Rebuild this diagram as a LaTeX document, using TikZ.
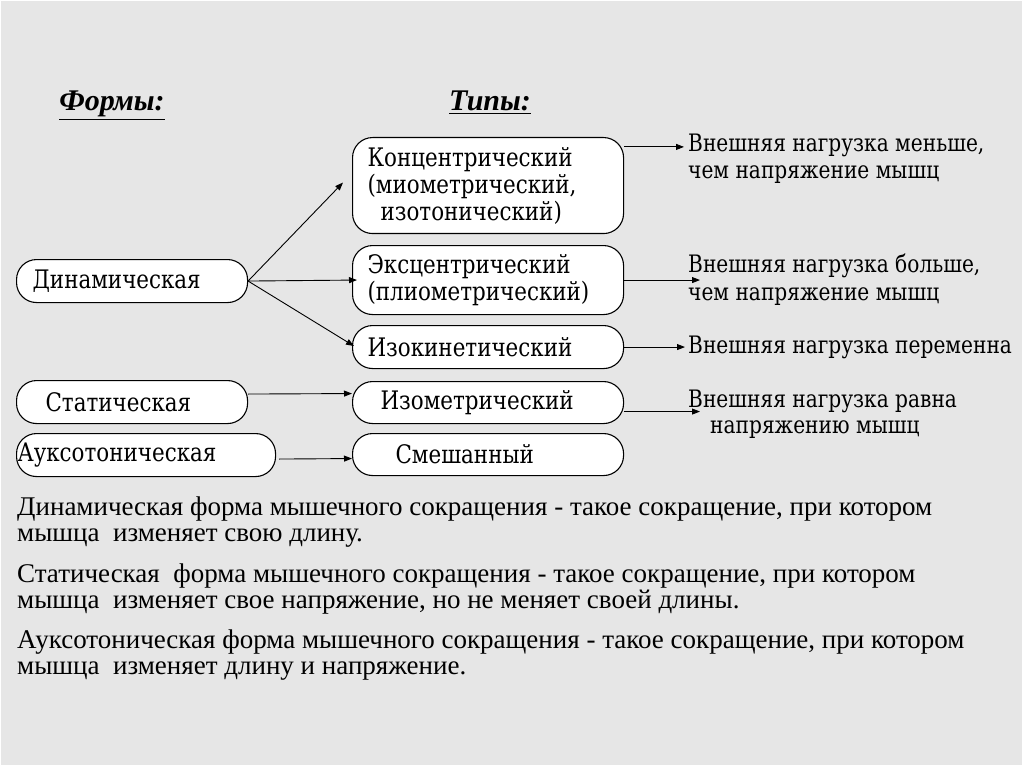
\documentclass[tikz,border=0pt]{standalone}
\usepackage{fontspec}
\setmainfont{DejaVu Serif}
\newfontfamily\boxfont{DejaVu Serif}[FakeStretch=0.84]
\newfontfamily\timesfont{Liberation Serif}
\usetikzlibrary{arrows.meta, calc}
\definecolor{paper}{HTML}{E6E6E6}
\tikzset{
  tbox/.style={draw, line width=1.1pt, fill=white, rounded corners=20pt, anchor=north west,
    inner ysep=0pt, align=left, font=\boxfont\fontsize{25.5}{27}\selectfont},
  lbl/.style={anchor=base west, inner sep=0pt, font=\boxfont\fontsize{24}{27}\selectfont},
  arr/.style={line width=0.9pt, -{Triangle[length=8pt,width=6pt]}},
  ttl/.style={anchor=base, inner sep=0pt, font=\timesfont\fontsize{30}{32}\selectfont\bfseries\itshape},
  expl/.style={anchor=base west, inner sep=0pt, font=\timesfont\fontsize{27}{27}\selectfont}
}
\begin{document}
\begin{tikzpicture}[x=1pt, y=-1pt]
\fill[white] (0,0) rectangle (1024,767);
\fill[paper] (1,1) rectangle (1022,765);
\useasboundingbox (0,0) rectangle (1024,767);

\node[ttl] (formy) at (112,111) {\underline{Формы:}};
\node[ttl] (tipy) at (490,111) {\underline{Типы:}};

\node[tbox, inner xsep=16pt, text width=199pt, minimum height=43pt] (dyn) at (16,259) {Динамическая};
\node[tbox, inner xsep=29pt, text width=173pt, minimum height=43pt] (stat) at (16,380) {Статическая};
\node[tbox, inner xsep=1pt, text width=257pt, minimum height=43pt] (aux) at (16,433) {Ауксотоническая};

\node[tbox, inner xsep=15pt, text width=241pt, minimum height=96pt] (konc) at (352,137)
  {Концентрический\\(миометрический,\\\hspace*{13pt}изотонический)};
\node[tbox, inner xsep=15pt, text width=241pt, minimum height=69pt] (eksc) at (352,245)
  {Эксцентрический\\(плиометрический)};
\node[tbox, inner xsep=15pt, text width=241pt, minimum height=43pt] (izok) at (352,325) {Изокинетический};
\node[tbox, inner xsep=15pt, text width=241pt, minimum height=42pt] (izom) at (352,381) {\hspace*{13pt}Изометрический};
\node[tbox, inner xsep=15pt, text width=241pt, minimum height=42pt] (smesh) at (352,433) {\hspace*{28pt}Смешанный};

\node[lbl] (men1) at (688,152) {Внешняя нагрузка меньше,};
\node[lbl] (men2) at (688,179) {чем напряжение мышц};
\node[lbl] (bol1) at (688,272) {Внешняя нагрузка больше,};
\node[lbl] (bol2) at (688,300) {чем напряжение мышц};
\node[lbl] (per) at (688,353) {Внешняя нагрузка переменна};
\node[lbl] (rav1) at (688,407) {Внешняя нагрузка равна};
\node[lbl] (rav2) at (710,433) {напряжению мышц};

\draw[arr] (dyn.east) -- ($(konc.west)+(-9,-3)$);
\draw[arr] (dyn.east) -- ($(eksc.west)+(5,0)$);
\draw[arr] (dyn.east) -- ($(izok.west)+(2,-1)$);
\draw[arr] ($(stat.east)+(0,-8)$) -- ($(izom.west)+(0,-9)$);
\draw[arr] ($(aux.east)+(3,4)$) -- ($(smesh.west)+(0,4)$);

\draw[arr] ($(konc.east |- men1.west)+(0,1)$) -- ($(men1.west)+(-4,1)$);
\draw[arr] (eksc.east) -- ($(bol1.west |- eksc.east)+(12,0)$);
\draw[arr] (izok.east) -- ($(per.west |- izok.east)+(-3,0)$);
\draw[arr] ($(izom.east)+(0,9)$) -- ($(rav1.west |- izom.east)+(12,9)$);

\node[expl] (dyn1) at (17,515) {Динамическая форма мышечного сокращения - такое сокращение, при котором};
\node[expl] (dyn2) at (17,541) {мышца\ \ изменяет свою длину.};
\node[expl] (stat1) at (17,582) {Статическая\ \ форма мышечного сокращения - такое сокращение, при котором};
\node[expl] (stat2) at (17,608) {мышца\ \ изменяет свое напряжение, но не меняет своей длины.};
\node[expl] (aux1) at (17,648) {Ауксотоническая форма мышечного сокращения - такое сокращение, при котором};
\node[expl] (aux2) at (17,674) {мышца\ \ изменяет длину и напряжение.};
\end{tikzpicture}
\end{document}
